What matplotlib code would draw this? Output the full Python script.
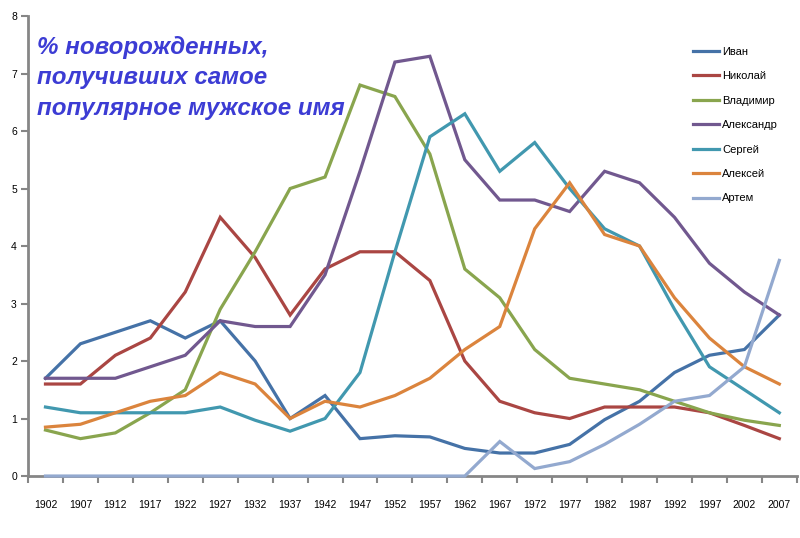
import matplotlib
matplotlib.use('Agg')
import matplotlib.pyplot as plt
import numpy as np

plt.rcParams['font.family'] = ['Liberation Sans', 'DejaVu Sans']

# данные
years = [1902, 1907, 1912, 1917, 1922, 1927, 1932, 1937, 1942, 1947, 1952,
         1957, 1962, 1967, 1972, 1977, 1982, 1987, 1992, 1997, 2002, 2007]

ivan = [1.7, 2.3, 2.5, 2.7, 2.4, 2.7, 2.0, 1.0, 1.4, 0.65, 0.7,
        0.68, 0.48, 0.4, 0.4, 0.55, 0.98, 1.3, 1.8, 2.1, 2.2, 2.8]
nikolay = [1.6, 1.6, 2.1, 2.4, 3.2, 4.5, 3.8, 2.8, 3.6, 3.9, 3.9,
           3.4, 2.0, 1.3, 1.1, 1.0, 1.2, 1.2, 1.2, 1.1, 0.88, 0.65]
vladimir = [0.8, 0.65, 0.75, 1.1, 1.5, 2.9, 3.9, 5.0, 5.2, 6.8, 6.6,
            5.6, 3.6, 3.1, 2.2, 1.7, 1.6, 1.5, 1.3, 1.1, 0.97, 0.88]
alexandr = [1.7, 1.7, 1.7, 1.9, 2.1, 2.7, 2.6, 2.6, 3.5, 5.3, 7.2,
            7.3, 5.5, 4.8, 4.8, 4.6, 5.3, 5.1, 4.5, 3.7, 3.2, 2.8]
sergey = [1.2, 1.1, 1.1, 1.1, 1.1, 1.2, 0.97, 0.78, 1.0, 1.8, 3.9,
          5.9, 6.3, 5.3, 5.8, 5.0, 4.3, 4.0, 2.9, 1.9, 1.5, 1.1]
alexey = [0.85, 0.9, 1.1, 1.3, 1.4, 1.8, 1.6, 1.0, 1.3, 1.2, 1.4,
          1.7, 2.2, 2.6, 4.3, 5.1, 4.2, 4.0, 3.1, 2.4, 1.9, 1.6]
artem = [0, 0, 0, 0, 0, 0, 0, 0, 0, 0, 0,
         0, 0, 0.6, 0.13, 0.25, 0.55, 0.9, 1.3, 1.4, 1.9, 3.75]

names = ['Иван', 'Николай', 'Владимир', 'Александр', 'Сергей', 'Алексей', 'Артем']
series = [ivan, nikolay, vladimir, alexandr, sergey, alexey, artem]
colors = ['#4572A7', '#AA4643', '#89A54E', '#71588F', '#4198AF', '#DB843D', '#93A9CF']

fig = plt.figure(figsize=(8, 5.38), dpi=100)
ax = fig.add_axes([0.035, 0.1152, 0.961, 0.855])

x = np.arange(len(years))
for name, vals, c in zip(names, series, colors):
    ax.plot(x, vals, color=c, lw=2.3, label=name, solid_joinstyle='miter',
            zorder=3, clip_on=False)

ax.set_xlim(-0.5, len(years) - 0.5)
ax.set_ylim(0, 8)

# оси в стиле Excel
for s in ['top', 'right']:
    ax.spines[s].set_visible(False)
for s in ['left', 'bottom']:
    ax.spines[s].set_color('#868686')
    ax.spines[s].set_linewidth(2)

ax.set_xticks(x)
ax.set_xticklabels([str(y) for y in years], fontsize=7.5)
ax.set_xticks(np.arange(-0.5, len(years)), minor=True)
ax.tick_params(axis='x', which='major', length=0, pad=17)
ax.tick_params(axis='x', which='minor', length=5, width=1.5, color='#868686', direction='out')
ax.set_yticks(range(0, 9))
ax.tick_params(axis='y', length=5, width=1.5, color='#868686', labelsize=7.5, pad=3)

# заголовок
fig.text(0.046, 0.934, '% новорожденных,\nполучивших самое\nпопулярное мужское имя',
         fontsize=17.4, fontweight='bold', fontstyle='italic', color='#3C3CD4',
         va='top', ha='left', linespacing=1.42)

ax.legend(loc='upper left', bbox_to_anchor=(0.852, 0.955), frameon=False,
          fontsize=8, handlelength=2.3, handletextpad=0.35, labelspacing=1.3)

plt.savefig('out.png', dpi=100)
